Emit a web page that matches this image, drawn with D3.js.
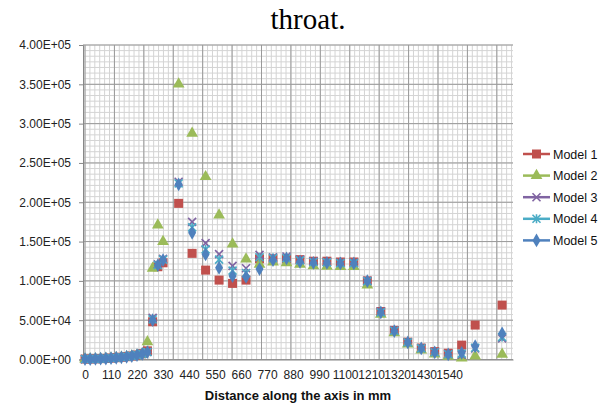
<!DOCTYPE html>
<html><head><meta charset="utf-8">
<script src="https://cdn.jsdelivr.net/npm/d3@7"></script>
<style>body{margin:0;background:#fff;}svg{display:block;font-family:"Liberation Sans",Arial,sans-serif;}</style>
</head><body><svg id="c" width="613" height="407"></svg>
<script>
// distances along the axis (mm)
const distances = [0,22,44,66,88,110,132,154,176,198,220,242,264,286,308,330,
  396,453,510,567,624,681,738,795,852,909,966,1023,1080,1137,1194,1251,1308,1365,1422,1479,1536,1593,1650,1764];
const model1 = [600,700,900,1100,1400,1800,2300,2900,3600,4500,5700,7500,11000,48000,118000,123000,
  198600,135000,113700,101000,96800,101000,128000,128000,128000,127000,125000,125000,124000,124000,100000,61000,37000,22000,14500,10000,8000,18300,43800,69200];
const model2 = [400,500,700,900,1200,1600,2100,2700,3400,4300,5500,7000,22500,116000,171000,150000,
  350400,287700,232500,183700,146800,127700,121000,124000,123000,121000,119000,118500,118000,118000,94600,57500,34000,19500,12000,7000,4000,1800,4300,6500];
const model3 = [500,600,800,1000,1300,1700,2200,2800,3500,4400,5600,7200,9500,53000,121000,128000,
  226000,175000,148000,134000,119000,116000,133000,130000,131000,127000,125000,124000,123000,123000,100000,61000,37000,22000,14500,9500,7000,6000,14000,26800];
const model4 = [500,600,800,1000,1300,1700,2200,2800,3500,4400,5600,7200,9500,51000,120000,127000,
  224000,168000,140000,127000,113000,110000,130000,129000,129000,126000,124000,123500,122500,122500,99500,60000,36500,21800,14200,9200,6700,7500,15000,28500];
const model5 = [500,600,800,1000,1300,1700,2200,2800,3500,4400,5600,7200,9500,50000,120000,126500,
  222800,161200,133700,116700,106100,105200,115000,126500,128600,124300,123000,123000,122200,122200,99700,59900,36100,21700,14100,9000,6500,8500,17000,33200];
const seriesNames = ["Model 1","Model 2","Model 3","Model 4","Model 5"];
const xTickLabels = [0,110,220,330,440,550,660,770,880,990,1100,1210,1320,1430,1540];
const yTicks = [0,50000,100000,150000,200000,250000,300000,350000,400000];

const colors = ["#C0504D","#9BBB59","#8064A2","#4BACC6","#4F81BD"];
const shapes = ["square","triangle","x","star","diamond"];
const allSeries = [model1,model2,model3,model4,model5];

const svg = d3.select("#c");
const L=83,R=513,T=45,B=359.5;
const x = d3.scaleLinear().domain([-8.5,1810]).range([L,R]);
const y = d3.scaleLinear().domain([0,400000]).range([B,T]);

// title fragment
svg.append("text").attr("x",308).attr("y",29).attr("text-anchor","middle")
  .style("font-family","'Liberation Serif','Times New Roman',serif").style("font-size","29px").attr("fill","#000").text("throat.");

// gridlines
const g = svg.append("g");
const majorX = 124.4, minorDivX = 6, minorDivY = 7;
const minorXs = d3.range(0, 1810, majorX/minorDivX);
const minorYs = d3.range(0, 400001, 50000/minorDivY);
g.selectAll(".mx").data(minorXs).join("line").attr("x1",d=>x(d)).attr("x2",d=>x(d)).attr("y1",T).attr("y2",B)
  .attr("stroke","#d4d4d4").attr("stroke-width",1);
g.selectAll(".my").data(minorYs).join("line").attr("x1",L).attr("x2",R).attr("y1",d=>y(d)).attr("y2",d=>y(d))
  .attr("stroke","#d4d4d4").attr("stroke-width",1);
g.selectAll(".Mx").data(d3.range(0,1810,majorX)).join("line").attr("x1",d=>x(d)).attr("x2",d=>x(d)).attr("y1",T).attr("y2",B)
  .attr("stroke","#9a9a9a").attr("stroke-width",1);
g.selectAll(".My").data(yTicks).join("line").attr("x1",L).attr("x2",R).attr("y1",d=>y(d)).attr("y2",d=>y(d))
  .attr("stroke","#9a9a9a").attr("stroke-width",1);

// axes
const fmt = v => { if(v===0) return "0.00E+00"; const e=Math.floor(Math.log10(v)); const m=v/Math.pow(10,e); return m.toFixed(2)+"E+"+String(e).padStart(2,"0"); };
const yAxis = svg.append("g").attr("transform",`translate(${L},0)`)
  .call(d3.axisLeft(y).tickValues(yTicks).tickFormat(fmt).tickSize(4).tickPadding(8));
yAxis.select(".domain").attr("stroke","#888");
yAxis.selectAll(".tick line").attr("stroke","#888");
yAxis.selectAll("text").style("font-size","12px").attr("fill","#222");

const xAxis = svg.append("g").attr("transform",`translate(0,${B})`)
  .call(d3.axisBottom(x).tickValues(xTickLabels).tickFormat(d=>d).tickSize(0).tickPadding(11));
xAxis.select(".domain").attr("stroke","#888");
xAxis.selectAll("text").style("font-size","12px").attr("fill","#222");

svg.append("text").attr("x",298).attr("y",400).attr("text-anchor","middle")
  .style("font-size","13px").style("font-weight","bold").attr("fill","#111").text("Distance along the axis in mm");

// markers
function drawMarker(sel, shape, color){
  if(shape==="square") sel.append("rect").attr("x",-4.5).attr("y",-4.5).attr("width",9).attr("height",9).attr("fill",color);
  else if(shape==="triangle") sel.append("path").attr("d",d3.symbol(d3.symbolTriangle,60)()).attr("fill",color);
  else if(shape==="diamond") sel.append("path").attr("d",d3.symbol(d3.symbolDiamond,55)()).attr("fill",color);
  else if(shape==="x") sel.append("path").attr("d","M-4,-4L4,4M-4,4L4,-4").attr("stroke",color).attr("stroke-width",1.6).attr("fill","none");
  else if(shape==="star") sel.append("path").attr("d","M-4,-4L4,4M-4,4L4,-4M0,-4.5L0,4.5").attr("stroke",color).attr("stroke-width",1.6).attr("fill","none");
}
allSeries.forEach((vals,si)=>{
  const sg = svg.append("g");
  vals.forEach((v,i)=>{
    const m = sg.append("g").attr("transform",`translate(${x(distances[i])},${y(v)})`);
    drawMarker(m, shapes[si], colors[si]);
  });
});

// legend
const lg = svg.append("g");
seriesNames.forEach((n,i)=>{
  const yy = 154 + i*21.6;
  const row = lg.append("g").attr("transform",`translate(0,${yy})`);
  row.append("line").attr("x1",523).attr("x2",550).attr("y1",0).attr("y2",0).attr("stroke",colors[i]).attr("stroke-width",2.5);
  const m = row.append("g").attr("transform","translate(536.5,0)");
  drawMarker(m, shapes[i], colors[i]);
  row.append("text").attr("x",553).attr("y",4.5).style("font-size","12.5px").attr("fill","#111").text(n);
});
</script></body></html>
